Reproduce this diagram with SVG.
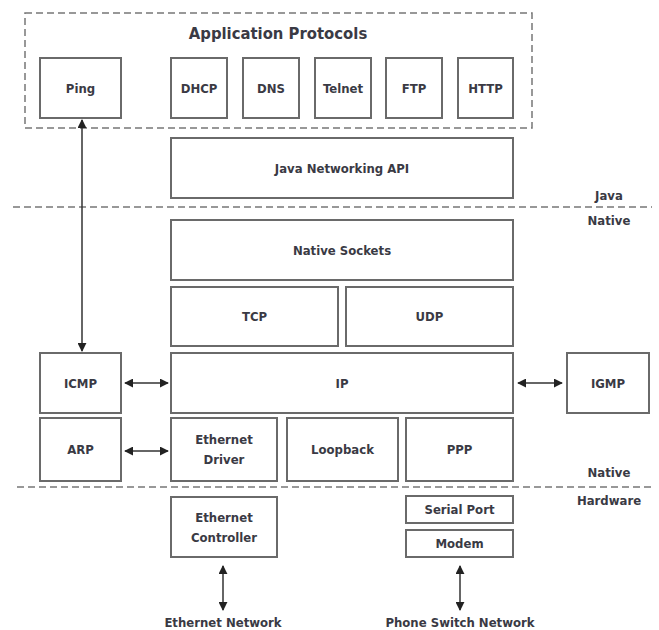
<svg xmlns="http://www.w3.org/2000/svg" width="659" height="630" viewBox="0 0 659 630">
<defs>
<style>
.box{fill:#fff;stroke:#6a6a6a;stroke-width:2}
.t{font-family:"DejaVu Sans Condensed","DejaVu Sans",sans-serif;font-stretch:condensed;font-weight:bold;font-size:13px;fill:#3a3a44;text-anchor:middle;dominant-baseline:central}
.title{font-size:16.5px}
.dash{fill:none;stroke:#777;stroke-width:1.5;stroke-dasharray:7 4}
.arr{stroke:#333;stroke-width:1.5;fill:none;marker-start:url(#ah);marker-end:url(#ah)}
</style>
<marker id="ah" viewBox="0 0 10 10" refX="9" refY="5" markerWidth="9" markerHeight="9" markerUnits="userSpaceOnUse" orient="auto-start-reverse">
<path d="M0,0 L10,5 L0,10 z" fill="#222"/>
</marker>
</defs>
<rect width="659" height="630" fill="#fff"/>
<g id="app-group">
<rect class="dash" x="25" y="13" width="507" height="115"/>
<text class="t title" x="278" y="33">Application Protocols</text>
</g>
<g id="ping"><rect class="box" x="40" y="58" width="81" height="60"/><text class="t" x="80.5" y="88">Ping</text></g>
<g id="dhcp"><rect class="box" x="171" y="58" width="56" height="60"/><text class="t" x="199" y="88">DHCP</text></g>
<g id="dns"><rect class="box" x="243" y="58" width="56" height="60"/><text class="t" x="271" y="88">DNS</text></g>
<g id="telnet"><rect class="box" x="315" y="58" width="56" height="60"/><text class="t" x="343" y="88">Telnet</text></g>
<g id="ftp"><rect class="box" x="386" y="58" width="56" height="60"/><text class="t" x="414" y="88">FTP</text></g>
<g id="http"><rect class="box" x="458" y="58" width="55" height="60"/><text class="t" x="485.5" y="88">HTTP</text></g>
<g id="java-api"><rect class="box" x="171" y="138" width="342" height="60"/><text class="t" x="342" y="168">Java Networking API</text></g>
<g id="layer-java-native">
<line class="dash" x1="13" y1="207" x2="652" y2="207"/>
<text class="t" x="609" y="195">Java</text>
<text class="t" x="609" y="220">Native</text>
</g>
<g id="native-sockets"><rect class="box" x="171" y="220" width="342" height="60"/><text class="t" x="342" y="250">Native Sockets</text></g>
<g id="tcp"><rect class="box" x="171" y="287" width="167" height="59"/><text class="t" x="254.5" y="316.5">TCP</text></g>
<g id="udp"><rect class="box" x="346" y="287" width="167" height="59"/><text class="t" x="429.5" y="316.5">UDP</text></g>
<g id="ip"><rect class="box" x="171" y="353" width="342" height="60"/><text class="t" x="342" y="383">IP</text></g>
<g id="icmp"><rect class="box" x="40" y="353" width="81" height="60"/><text class="t" x="80.5" y="383">ICMP</text></g>
<g id="igmp"><rect class="box" x="567" y="353" width="82" height="60"/><text class="t" x="608" y="383">IGMP</text></g>
<g id="arp"><rect class="box" x="40" y="418" width="81" height="63"/><text class="t" x="80.5" y="449.5">ARP</text></g>
<g id="ethernet-driver"><rect class="box" x="171" y="418" width="106" height="63"/><text class="t" x="224" y="439">Ethernet</text><text class="t" x="224" y="459">Driver</text></g>
<g id="loopback"><rect class="box" x="287" y="418" width="111" height="63"/><text class="t" x="342.5" y="449.5">Loopback</text></g>
<g id="ppp"><rect class="box" x="406" y="418" width="107" height="63"/><text class="t" x="459.5" y="449.5">PPP</text></g>
<g id="layer-native-hardware">
<line class="dash" x1="17" y1="487" x2="652" y2="487"/>
<text class="t" x="609" y="472">Native</text>
<text class="t" x="609" y="500">Hardware</text>
</g>
<g id="ethernet-controller"><rect class="box" x="171" y="497" width="106" height="60"/><text class="t" x="224" y="517">Ethernet</text><text class="t" x="224" y="537">Controller</text></g>
<g id="serial-port"><rect class="box" x="406" y="496" width="107" height="27"/><text class="t" x="459.5" y="509.5">Serial Port</text></g>
<g id="modem"><rect class="box" x="406" y="530" width="107" height="27"/><text class="t" x="459.5" y="543.5">Modem</text></g>
<g id="ethernet-network"><text class="t" x="223" y="622">Ethernet Network</text></g>
<g id="phone-network"><text class="t" x="460" y="622">Phone Switch Network</text></g>
<g id="connectors">
<line class="arr" x1="82" y1="120" x2="82" y2="351"/>
<line class="arr" x1="125" y1="383" x2="168" y2="383"/>
<line class="arr" x1="518" y1="383" x2="562" y2="383"/>
<line class="arr" x1="125" y1="451" x2="168" y2="451"/>
<line class="arr" x1="223" y1="566" x2="223" y2="610"/>
<line class="arr" x1="460" y1="566" x2="460" y2="610"/>
</g>
</svg>
